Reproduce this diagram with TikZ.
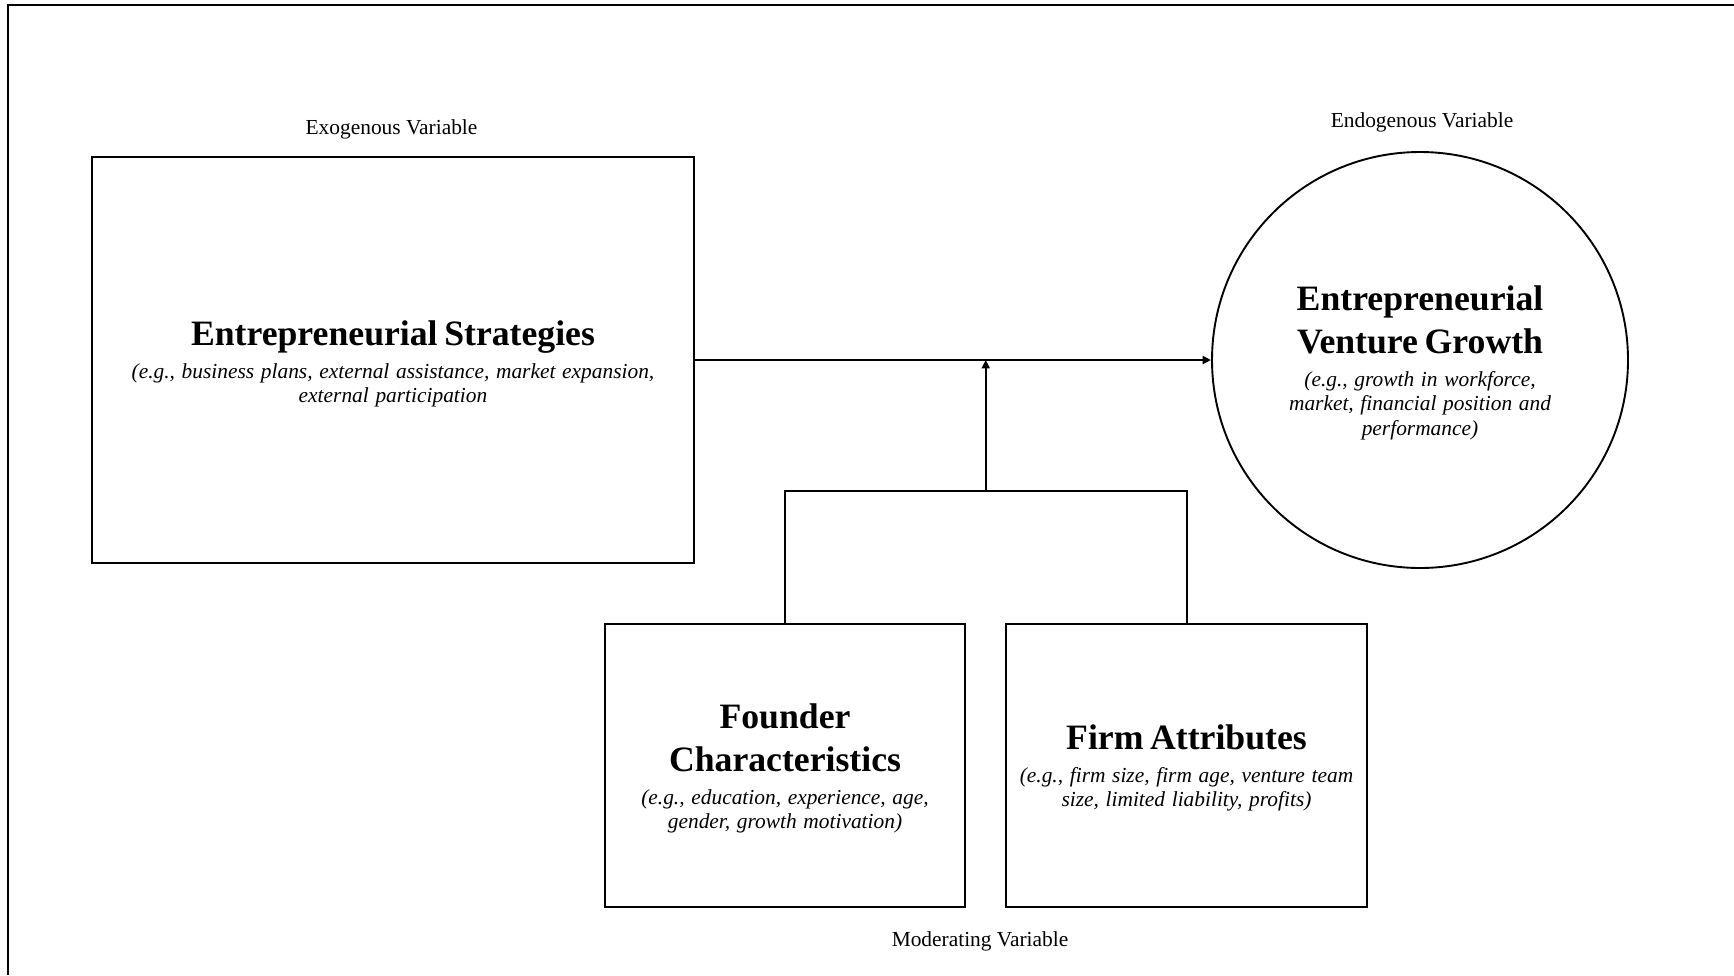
\documentclass[tikz,border=0pt]{standalone}
\usepackage{fontspec}
\setmainfont{Liberation Serif}
\usetikzlibrary{arrows.meta}

% Text styles used inside the framework boxes
\newcommand\headline[1]{{\fontsize{17.85}{21.8}\selectfont\bfseries #1\par}}
\newcommand\exampletext[1]{\vskip 3.9pt{\fontsize{10.7}{12.3}\selectfont\itshape #1\par}}

\begin{document}
\begin{tikzpicture}[x=0.5pt,y=-0.5pt,
  line/.style={line width=1pt},
  arrowline/.style={line width=1pt,-{Triangle[length=4.2pt,width=4pt]}},
  framebox/.style={draw,line width=1.05pt,rectangle,inner sep=0pt,align=center},
  growthcircle/.style={draw,line width=0.95pt,circle,inner sep=0pt,minimum size=208pt,
    align=center,text width=150pt},
  varlabel/.style={font=\fontsize{10.7}{12}\selectfont,inner sep=0pt}]
\useasboundingbox (0,0) rectangle (1734,975);

% page frame
\draw[line width=1.4pt] (8,975) -- (8,5) -- (1740,5);

% exogenous variable
\node[framebox,minimum width=301pt,minimum height=203pt,text width=290pt] (strat) at (393,360)
  {\vskip -5.4pt\headline{Entrepreneurial Strategies}%
   \exampletext{(e.g., business plans, external assistance, market expansion,\\ external participation}};
\node[varlabel] (exog) at (391.5,129) {Exogenous Variable};

% endogenous variable
\node[growthcircle] (growth) at (1420,360)
  {\vskip -6.9pt\headline{Entrepreneurial\\ Venture Growth}%
   \exampletext{(e.g., growth in workforce,\\ market, financial position and\\ performance)}};
\node[varlabel] (endog) at (1422,122.5) {Endogenous Variable};

% moderating variables
\node[framebox,minimum width=180pt,minimum height=141.5pt,text width=175pt] (founder) at (785,765.5)
  {\vskip -6.4pt\headline{Founder\\ Characteristics}%
   \exampletext{(e.g., education, experience, age,\\ gender, growth motivation)}};
\node[framebox,minimum width=180.5pt,minimum height=141.5pt,text width=175pt] (firm) at (1186.5,765.5)
  {\vskip -6.6pt\headline{Firm Attributes}%
   \exampletext{(e.g., firm size, firm age, venture team\\ size, limited liability, profits)}};
\node[varlabel] (moder) at (980,941) {Moderating Variable};

% connectors
\coordinate (junc) at (985.75,491);
\draw[arrowline] (strat.east) -- (growth.west);
\draw[line] (founder.north) |- (junc) -| (firm.north);
\draw[arrowline] (junc) -- (junc |- strat.east);
\end{tikzpicture}
\end{document}
